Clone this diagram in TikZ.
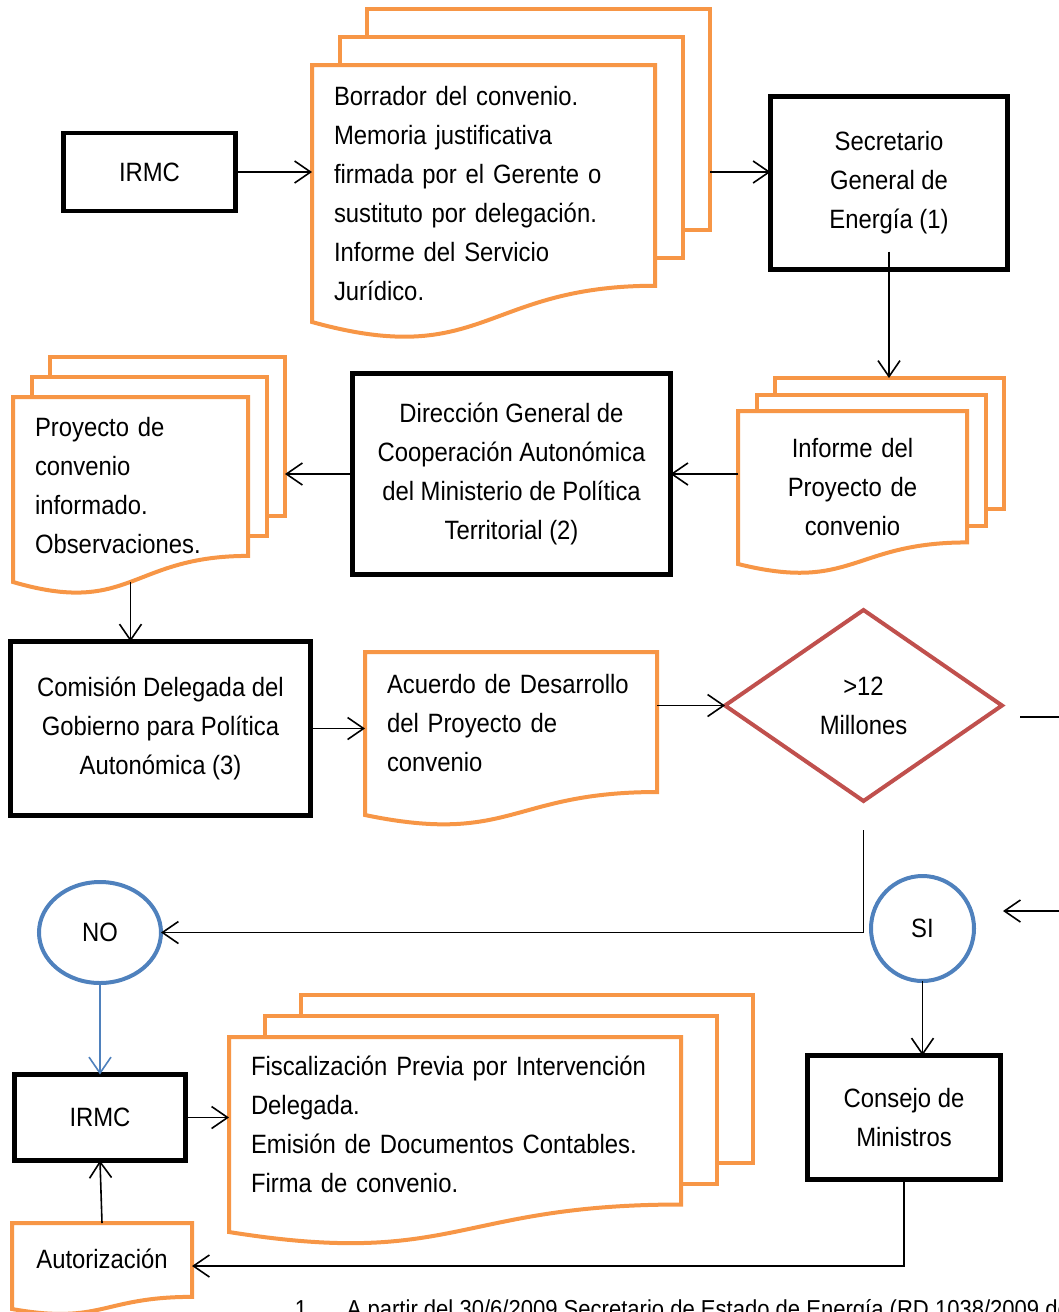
\documentclass[tikz,border=0pt]{standalone}
\usepackage{fontspec}
\setmainfont{Liberation Sans}[FakeStretch=0.9]
\usetikzlibrary{calc,shapes.geometric,arrows.meta,backgrounds}

\definecolor{docorange}{HTML}{F79646}
\definecolor{decisionred}{HTML}{C0504D}
\definecolor{answerblue}{HTML}{4F81BD}

\newcommand{\docframe}[1]{%
  \draw[docline] (#1.north west) -- (#1.north east)
    -- ($(#1.north east)!0.859!(#1.south east)$)
    .. controls ($(#1.north)!0.859!(#1.south)$) and ($(#1.north)!1.186!(#1.south)$)
    .. (#1.south west) -- cycle}
\newcommand{\multiframe}[3]{%
  \foreach \k in {2,1}
    \draw[docline] ($(#1.north west)+(\k*#2,-\k*#3)$) rectangle
      ($(#1.north east)!0.859!(#1.south east)+(\k*#2,-\k*#3)$);
  \docframe{#1}}
\newcommand{\connect}[2]{%
  \draw[->] (#1) -- (#2)}

\begin{document}
\begin{tikzpicture}[x=1pt, y=-1pt, line width=1.6pt,
    >={Straight Barb[length=16pt,width=22pt]},
    every node/.style={font=\fontsize{26.5}{39}\selectfont},
    box/.style={draw, line width=4.5pt, align=center, inner sep=0pt, outer sep=0pt},
    doc/.style={inner xsep=22pt, inner ysep=0pt, outer sep=0pt},
    docline/.style={draw=docorange, line width=4pt, fill=white},
    answer/.style={ellipse, draw=answerblue, line width=4pt, inner sep=0pt, outer sep=0pt},
    footnote/.style={anchor=base west, inner sep=0pt, font=\fontsize{24.5}{30}\selectfont}]
  \useasboundingbox (0,0) rectangle (1059,1312);

  \node[box, minimum width=172pt, minimum height=78pt] (irmcA) at (149.5,172) {IRMC};
  \node[doc, minimum width=343pt, minimum height=257pt, text width=299pt, align=left]
    (borrador) at (483.5,193.5) {Borrador del convenio.\\Memoria justificativa\\firmada por el Gerente o\\sustituto por delegación.\\Informe del Servicio\\Jurídico.};
  \node[box, minimum width=237pt, minimum height=173pt] (secre) at (889,183) {Secretario\\General de\\Energía (1)};
  \node[doc, minimum width=229pt, minimum height=153pt, text width=185pt, align=center]
    (informe) at (852.5,487.5) {Informe del\\Proyecto de\\convenio};
  \node[box, minimum width=318pt, minimum height=201pt] (direccion) at (511.5,474) {Dirección General de\\Cooperación Autonómica\\del Ministerio de Política\\Territorial (2)};
  \node[doc, minimum width=235pt, minimum height=185pt, text width=191pt, align=left, text depth=126pt]
    (proyecto) at (130.5,489.5) {Proyecto de\\convenio\\informado.\\Observaciones.};
  \node[box, minimum width=300pt, minimum height=174pt] (comision) at (160.5,728.5) {Comisión Delegada del\\Gobierno para Política\\Autonómica (3)};
  \node[doc, minimum width=292pt, minimum height=163pt, text width=248pt, align=left, text depth=100pt]
    (acuerdo) at (511,733.5) {Acuerdo de Desarrollo\\del Proyecto de\\convenio};
  \node[diamond, draw=decisionred, line width=4pt, minimum width=277pt, minimum height=191pt,
    inner sep=0pt, outer sep=0pt, align=center] (importe) at (863.5,705.5) {>12\\Millones};
  \node[answer, minimum width=122pt, minimum height=101pt] (no) at (100,932.5) {NO};
  \node[answer, minimum width=103pt, minimum height=105pt] (si) at (922.5,928.5) {SI};
  \node[box, minimum width=171pt, minimum height=86pt] (irmcB) at (100,1117.5) {IRMC};
  \node[doc, minimum width=452pt, minimum height=195pt, text width=408pt, align=left, text depth=138pt]
    (fiscal) at (455,1134.5) {Fiscalización Previa por Intervención\\Delegada.\\Emisión de Documentos Contables.\\Firma de convenio.};
  \node[box, minimum width=193pt, minimum height=124pt] (consejo) at (904,1117.5) {Consejo de\\Ministros};
  \node[doc, minimum width=180pt, minimum height=86pt, text width=136pt, align=center, text depth=14pt]
    (autoriz) at (102,1266) {Autorización};
  \node[footnote] (notanum) at (294,1317) {1.};
  \node[footnote] (nota) at (346,1317) {A partir del 30/6/2009 Secretario de Estado de Energía (RD 1038/2009 de};

  \begin{scope}[on background layer]
    \multiframe{borrador}{27.5}{28};
    \multiframe{informe}{18.5}{16.5};
    \multiframe{proyecto}{18.5}{20};
    \docframe{acuerdo};
    \multiframe{fiscal}{36}{21};
    \docframe{autoriz};
  \end{scope}

  \coordinate (borradorR) at ($(borrador.east)+(55,0)$);
  \coordinate (informeT) at ($(informe.north)+(0,-33)$);
  \coordinate (proyectoR) at ($(proyecto.east)+(37,0)$);
  \coordinate (salidaA) at (1020,717);
  \coordinate (salidaB) at (1065,717);
  \coordinate (entradaA) at (1065,911);
  \coordinate (entradaB) at (1003,911);

  \connect{irmcA.east}{irmcA.east -| borrador.west};
  \connect{borradorR |- irmcA.east}{secre.west |- irmcA.east};
  \draw[->] ([yshift=18pt]secre.south) -- (secre.south |- informeT);
  \connect{informe.west |- direccion.east}{direccion.east};
  \connect{direccion.west}{proyectoR |- direccion.west};
  \connect{proyecto.south}{proyecto.south |- comision.north};
  \connect{comision.east}{comision.east -| acuerdo.west};
  \connect{importe.west -| acuerdo.east}{importe.west};
  \draw (salidaA) -- (salidaB);
  \draw[->] ([yshift=-29pt]importe.south) |- (no.east);
  \connect{entradaA}{entradaB};
  \draw[->, answerblue] (no.south) -- (irmcB.north);
  \connect{irmcB.east}{irmcB.east -| fiscal.west};
  \connect{si.south}{si.south |- consejo.north};
  \draw[->] (consejo.south) |- (autoriz.east);
  \connect{autoriz.north}{irmcB.south};
\end{tikzpicture}
\end{document}
